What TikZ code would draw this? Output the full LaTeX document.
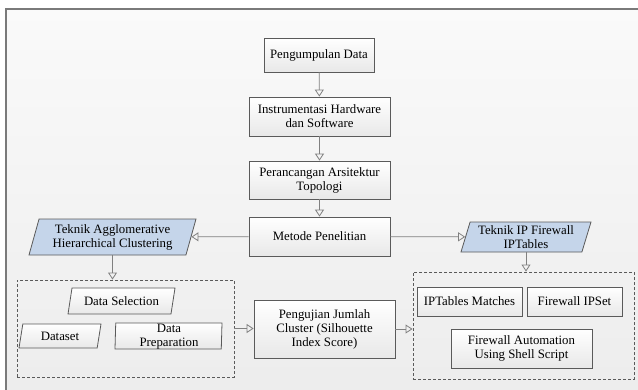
\documentclass[tikz,border=0pt]{standalone}
\usepackage{fontspec}
\setmainfont{Liberation Serif}
\usetikzlibrary{shapes.geometric,arrows.meta,positioning}
\definecolor{linegray}{HTML}{5A5A5A}
\definecolor{arrgray}{HTML}{808080}
\definecolor{framegray}{HTML}{7A7A7A}
\definecolor{tekblue}{HTML}{C5D5EA}
\tikzset{
  txt/.style={font=\fontsize{12.8}{14}\selectfont, align=center},
  box/.style={txt, draw=linegray, line width=0.8pt, top color=white, bottom color=black!9, inner sep=2pt},
  para/.style={txt, trapezium, trapezium left angle=70, trapezium right angle=110, trapezium stretches body, draw=linegray, line width=0.8pt, inner sep=1pt},
  greypara/.style={para, top color=white, bottom color=black!9},
  tekpara/.style={para, fill=tekblue},
  dashbox/.style={draw=linegray, line width=0.9pt, dash pattern=on 3pt off 2pt, inner sep=0pt},
  flow/.style={draw=arrgray, line width=0.8pt, -{Triangle[open, length=7pt, width=9pt]}}
}
\begin{document}
\begin{tikzpicture}[x=1pt, y=-1pt]
\useasboundingbox (0,0) rectangle (638,389);
\clip (0,0) rectangle (638,389);
\fill[white] (0,0) rectangle (638,389);
\shade[top color=black!2, bottom color=black!8] (6,9) rectangle (700,450);
\draw[framegray, line width=1.2pt] (6,9) rectangle (700,450);

% alur utama
\node[box, minimum width=110, minimum height=34] (kumpul) at (319,55) {Pengumpulan Data};
\node[box, minimum width=141, minimum height=39] (instr) at (319.5,116.5) {Instrumentasi Hardware\\dan Software};
\node[box, minimum width=141, minimum height=38] (rancang) at (319.5,180) {Perancangan Arsitektur\\Topologi};
\node[box, minimum width=141, minimum height=39] (metode) at (319.5,236.5) {Metode Penelitian};

% teknik
\node[tekpara, minimum width=167, minimum height=36] (agglo) at (112.5,237) {Teknik Agglomerative\\Hierarchical Clustering};
\node[tekpara, minimum width=130, minimum height=30] (iptek) at (526,237) {Teknik IP Firewall\\IPTables};

% kotak putus-putus
\node[dashbox, minimum width=217, minimum height=97] (clus) at (125.5,328.5) {};
\node[dashbox, minimum width=221, minimum height=107] (fw) at (523.5,325.5) {};

\node[greypara, minimum width=107, minimum height=26] (selek) at (121.5,301) {Data Selection};
\node[greypara, minimum width=82, minimum height=24] (dataset) at (60,336) {Dataset};
\node[greypara, minimum width=107, minimum height=26] (prep) at (168.5,336) {};
\node[txt, inner sep=0pt] (preptxt) at (169,337) {Data\\Preparation};

\node[box, minimum width=141, minimum height=58] (uji) at (324.5,329) {Pengujian Jumlah\\Cluster (Silhouette\\Index Score)};

\node[box, minimum width=105, minimum height=29] (match) at (469.5,301.5) {IPTables Matches};
\node[box, minimum width=95, minimum height=29] (ipset) at (574.5,301.5) {Firewall IPSet};
\node[box, minimum width=141, minimum height=39] (otomasi) at (521.5,348.5) {Firewall Automation\\Using Shell Script};

\draw[flow] (kumpul) -- (instr);
\draw[flow] (instr) -- (rancang);
\draw[flow] (rancang) -- (metode);
\draw[flow] (metode) -- (agglo);
\draw[flow] (metode) -- (iptek);
\draw[flow] (agglo.south) -- (agglo.south |- clus.north);
\draw[flow] (iptek.south) -- (iptek.south |- fw.north);
\draw[flow] (clus.east) -- (clus.east -| uji.west);
\draw[flow] (uji.east) -- (uji.east -| fw.west);
\end{tikzpicture}
\end{document}
